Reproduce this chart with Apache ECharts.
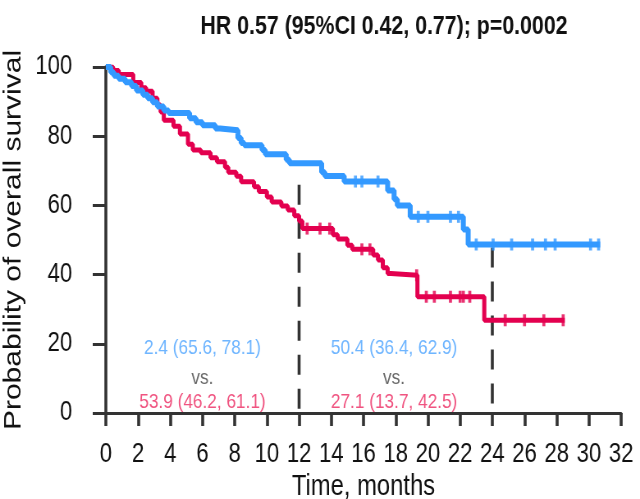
<!DOCTYPE html>
<html>
<head>
<meta charset="utf-8">
<script src="https://cdn.jsdelivr.net/npm/echarts@6/dist/echarts.min.js"></script>
<style>
html,body{margin:0;padding:0;background:#fff;overflow:hidden;}
#wrap{width:640px;height:499px;overflow:hidden;}
#c{width:780px;height:499px;transform:scaleX(0.8205);transform-origin:0 0;}
</style>
</head>
<body>
<div id="wrap"><div id="c"></div></div>
<script>
// ---- data ----
const titleText = 'HR 0.57 (95%CI 0.42, 0.77); p=0.0002';
const xTickMax = 32, xTickStep = 2;
const yTickMax = 100, yTickStep = 20;

// Kaplan-Meier steps: [month, survival %] (value held until next step)
const blueSteps = [[0,100],[0.3,98.5],[0.5,97.5],[0.8,96.6],[1.2,95.6],[1.6,94.5],[1.9,93.2],[2.3,92],[2.6,91],[2.9,89.8],[3.2,88.6],[3.6,87.4],[3.9,86.7],[5.2,85.2],[5.6,84],[6.0,83.2],[6.8,82.2],[7.1,81.7],[8.2,79.5],[8.4,78],[8.6,77.4],[9.7,76],[9.9,74.8],[11.2,73.2],[11.4,72.2],[13.4,69.6],[13.6,68.5],[14.8,66.9],[17.5,64.3],[17.9,61.8],[18.1,60],[18.9,56.7],[22.2,53],[22.5,48.7],[30.7,48.7]];
const redSteps = [[0,100],[0.45,99],[0.8,97.8],[1.7,95.5],[2.2,94],[2.5,93],[2.9,91],[3.2,89],[3.4,87],[3.6,84.6],[4.2,82.9],[4.6,80.6],[5.1,77.7],[5.4,76],[5.9,75.2],[6.5,73.8],[6.9,72.6],[7.4,71],[7.6,69.6],[8.1,68.4],[8.4,66.8],[9.2,65.4],[9.5,64],[10.0,62.4],[10.3,61],[10.9,59.8],[11.3,58.7],[11.7,57],[12.0,55.5],[12.2,53.3],[14.1,51.5],[14.4,50.3],[15.0,48.5],[15.3,47.3],[16.6,45.7],[16.9,44.2],[17.2,42],[17.5,40.3],[17.7,39.8],[19.35,33.6],[23.5,26.8],[28.5,26.8]];

// censoring times (months)
const blueCensor = [15.5,15.9,16.9,19.4,20.0,21.4,21.9,23.0,24.05,25.2,26.5,27.3,27.9,30.1,30.6];
const redCensor = [12.5,13.3,13.9,15.9,16.4,19.3,19.9,20.4,21.4,22.0,22.2,22.6,24.8,26.0,27.2,28.4];

// landmark dashed lines: [month, top value]
const landmarks = [[12,66],[24,47.8]];

// annotation texts: [month, value, text, kind]
const notes = [
  [6.0, 18.6, '2.4 (65.6, 78.1)', 'blue'],
  [6.0, 10.0, 'vs.', 'vs'],
  [6.0, 3.0, '53.9 (46.2, 61.1)', 'red'],
  [17.9, 18.6, '50.4 (36.4, 62.9)', 'blue'],
  [17.9, 10.0, 'vs.', 'vs'],
  [17.9, 3.0, '27.1 (13.7, 42.5)', 'red']
];

// ---- styling ----
const BLUE = '#3399ff', RED = '#e3004f';
const BLUE_TXT = '#4aa3ff', RED_TXT = '#ec2860', VS_TXT = '#444';
const AX = '#333';
const FONT = "'Liberation Sans',Arial,sans-serif";

function valueAt(steps, t) {
  let v = steps[0][1];
  for (const s of steps) { if (s[0] <= t) v = s[1]; else break; }
  return v;
}

const series = [];
landmarks.forEach(l => {
  series.push({
    type: 'line', data: [[l[0], l[1]], [l[0], 0]], symbol: 'none', silent: true,
    lineStyle: { color: AX, width: 3.6, type: [20, 14] }, z: 1
  });
});
series.push({
  type: 'line', step: 'end', data: redSteps, symbol: 'none', silent: true,
  lineStyle: { color: RED, width: 5 }, z: 2
});
series.push({
  type: 'scatter', data: redCensor.map(t => [t, valueAt(redSteps, t)]),
  symbol: 'rect', symbolSize: [3.7, 12], itemStyle: { color: RED }, silent: true, z: 3
});
series.push({
  type: 'line', step: 'end', data: blueSteps, symbol: 'none', silent: true,
  lineStyle: { color: BLUE, width: 6 }, z: 4
});
series.push({
  type: 'scatter', data: blueCensor.map(t => [t, valueAt(blueSteps, t)]),
  symbol: 'rect', symbolSize: [3.7, 12], itemStyle: { color: BLUE }, silent: true, z: 5
});
series.push({
  type: 'scatter', symbolSize: 0, silent: true, z: 6,
  data: notes.map(n => ({
    value: [n[0], n[1]],
    label: {
      show: true, position: 'inside', formatter: n[2],
      color: n[3] === 'blue' ? BLUE_TXT : (n[3] === 'red' ? RED_TXT : VS_TXT),
      fontSize: 21, fontFamily: FONT
    }
  }))
});

const chart = echarts.init(document.getElementById('c'), null, { renderer: 'canvas' });
chart.setOption({
  animation: false,
  backgroundColor: '#fff',
  title: {
    text: titleText, left: 463, top: 9, textAlign: 'center',
    textStyle: { fontSize: 26, fontWeight: 'bold', color: '#111', fontFamily: FONT }
  },
  grid: { left: 129, right: 23, top: 67, bottom: 86, outerBoundsMode: 'none' },
  xAxis: {
    type: 'value', min: 0, max: xTickMax, interval: xTickStep,
    name: 'Time, months', nameLocation: 'middle', nameGap: 56,
    nameTextStyle: { fontSize: 29, color: '#111', fontFamily: FONT },
    axisLine: { show: true, lineStyle: { color: AX, width: 3 } },
    axisTick: { show: true, length: 13, lineStyle: { color: AX, width: 3.6 } },
    axisLabel: { fontSize: 27, color: '#111', margin: 28, fontFamily: FONT },
    splitLine: { show: false }
  },
  yAxis: {
    type: 'value', min: 0, max: yTickMax, interval: yTickStep,
    name: 'Probability of overall survival', nameLocation: 'middle', nameGap: 79, nameRotate: 90,
    nameTextStyle: { fontSize: 30, color: '#111', fontFamily: FONT },
    axisLine: { show: true, onZero: false, lineStyle: { color: AX, width: 3.6 } },
    axisTick: { show: true, length: 16, lineStyle: { color: AX, width: 3 } },
    axisLabel: { fontSize: 27, color: '#111', margin: 41, fontFamily: FONT },
    splitLine: { show: false }
  },
  series: series
});
</script>
</body>
</html>
